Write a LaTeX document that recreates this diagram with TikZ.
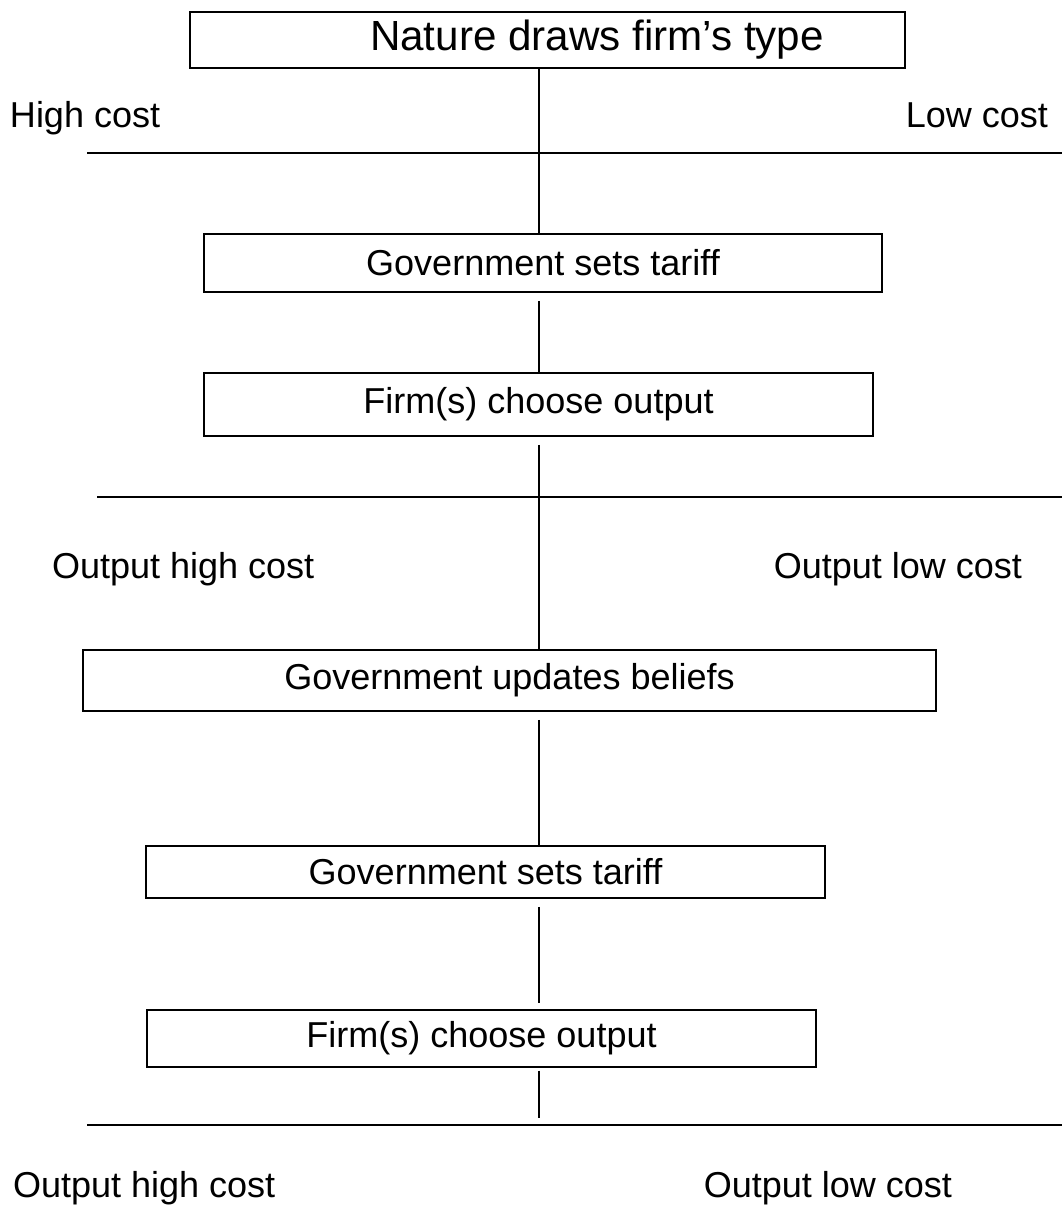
\documentclass[tikz,border=0pt]{standalone}
\usepackage{fontspec}
\setmainfont{Liberation Sans}
\begin{document}
\begin{tikzpicture}[x=0.02cm,y=-0.02cm,every node/.style={inner sep=0pt,outer sep=0pt,font=\fontsize{20.5}{24}\selectfont},stage/.style={draw,rectangle,line width=1.2pt},link/.style={line width=1.4pt},gap/.style={shorten <=5pt}]
                \useasboundingbox (0,0) rectangle (1062,1207);
                \coordinate (spine) at (539,0); %trục dọc
                % hộp: tên/trái/trên/phải/dưới/chữ
                \foreach \nm/\xl/\yt/\xr/\yb/\txt in {nature/190/12/905/68/{},tariffA/204/234/882/292/{Government sets tariff},choiceA/204/373/873/436/{Firm(s) choose output},update/83/650/936/711/{Government updates beliefs},tariffB/146/846/825/898/{Government sets tariff},choiceB/147/1010/816/1067/{Firm(s) choose output}}{
                    \pgfmathsetmacro\mw{(\xr-\xl)*0.02}
                    \pgfmathsetmacro\mh{(\yb-\yt)*0.02}
                    \node[stage,minimum width=\mw cm,minimum height=\mh cm] (\nm) at ({(\xl+\xr)/2},{(\yt+\yb)/2}) {\txt};
                }
                \node[font=\fontsize{24}{28}\selectfont] (natureTxt) at (597,40) {Nature draws firm’s type};
                % đường ngang
                \foreach \nm/\xl/\y in {typeR/87/153,outR/97/497,endR/87/1125}{
                    \coordinate (\nm L) at (\xl,\y);
                    \coordinate (\nm R) at (1062,\y);
                    \draw[link] (\nm L)--(\nm R);
                }
                % đường dọc
                \draw[link] (nature.south -| spine)--(tariffA.north -| spine);
                \draw[link,gap] (tariffA.south -| spine)--(choiceA.north -| spine);
                \draw[link,gap] (choiceA.south -| spine)--(update.north -| spine);
                \draw[link,gap] (update.south -| spine)--(tariffB.north -| spine);
                \draw[link,gap,shorten >=4pt] (tariffB.south -| spine)--(choiceB.north -| spine);
                \draw[link,shorten <=2pt,shorten >=4pt] (choiceB.south -| spine)--(endRL -| spine);
                % nhãn
                \path node[anchor=base west] (highA) at (10,127) {High cost} node[anchor=base east] (lowA) at (1048,127) {Low cost};
                \path node[anchor=base west] (outHighA) at (52,578) {Output high cost} node[anchor=base east] (outLowA) at (1022,578) {Output low cost};
                \path node[anchor=base west] (outHighB) at (13,1197) {Output high cost} node[anchor=base east] (outLowB) at (952,1197) {Output low cost};
            \end{tikzpicture}
\end{document}
